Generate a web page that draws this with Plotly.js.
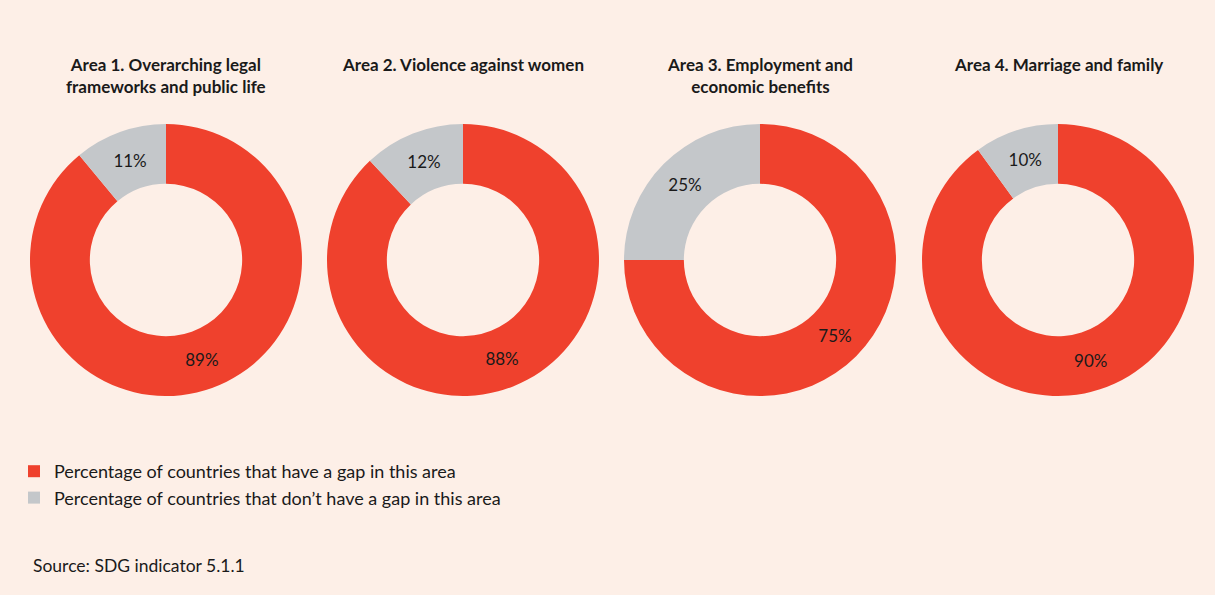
<!DOCTYPE html>
<html>
<head>
<meta charset="utf-8">
<script src="https://cdn.plot.ly/plotly-3.0.1.min.js"></script>
<style>
html,body{margin:0;padding:0;background:#fdefe7;}
#chart{width:1215px;height:595px;}
</style>
</head>
<body>
<div id="chart"></div>
<script>
// Data
const areaTitles = [
  "Area 1. Overarching legal<br>frameworks and public life",
  "Area 2. Violence against women",
  "Area 3. Employment and<br>economic benefits",
  "Area 4. Marriage and family"
];
const seriesLabels = [
  "Percentage of countries that have a gap in this area",
  "Percentage of countries that don\u2019t have a gap in this area"
];
const gapValues = [89, 88, 75, 90];
const noGapValues = [11, 12, 25, 10];
const sourceText = "Source: SDG indicator 5.1.1";

// Layout helpers
const W = 1215, H = 595;
const centersX = [166, 463, 760, 1058];
const centerY = 260, R = 136;
const colors = ["#ef412d", "#c4c7ca"];
const FONT = "Lato, 'Open Sans', sans-serif";
const textColor = "#1a1a1a";

const traces = gapValues.map((g, i) => ({
  type: "pie",
  labels: seriesLabels,
  values: [g, noGapValues[i]],
  hole: 0.56,
  sort: false,
  direction: "clockwise",
  rotation: 0,
  marker: {colors: colors, line: {width: 0}},
  textinfo: "percent",
  texttemplate: "%{value}%",
  textposition: "inside",
  insidetextorientation: "horizontal",
  textfont: {family: FONT, size: 17, color: textColor},
  showlegend: i === 0,
  hoverinfo: "label+value",
  domain: {
    x: [(centersX[i] - R) / W, (centersX[i] + R) / W],
    y: [1 - (centerY + R) / H, 1 - (centerY - R) / H]
  }
}));

const annotations = areaTitles.map((t, i) => ({
  text: "<b>" + t + "</b>",
  x: centersX[i] / W,
  y: 1 - 52 / H,
  xref: "paper", yref: "paper",
  xanchor: "center", yanchor: "top",
  showarrow: false,
  align: "center",
  font: {family: FONT, size: 17, color: textColor}
}));
annotations.push({
  text: sourceText,
  x: 31 / W, y: 1 - 565 / H,
  xref: "paper", yref: "paper",
  xanchor: "left", yanchor: "middle",
  showarrow: false,
  font: {family: FONT, size: 17.5, color: textColor}
});

const layout = {
  width: W, height: H,
  margin: {l: 0, r: 0, t: 0, b: 0},
  paper_bgcolor: "#fdefe7",
  plot_bgcolor: "#fdefe7",
  font: {family: FONT, color: textColor},
  showlegend: true,
  legend: {
    x: 14 / W, y: 1 - 453 / H,
    xanchor: "left", yanchor: "top",
    orientation: "v",
    bgcolor: "rgba(0,0,0,0)",
    font: {family: FONT, size: 18, color: textColor},
    itemclick: false, itemdoubleclick: false,
    tracegroupgap: 0
  },
  annotations: annotations
};

Plotly.newPlot("chart", traces, layout, {displayModeBar: false, staticPlot: true});
</script>
</body>
</html>
